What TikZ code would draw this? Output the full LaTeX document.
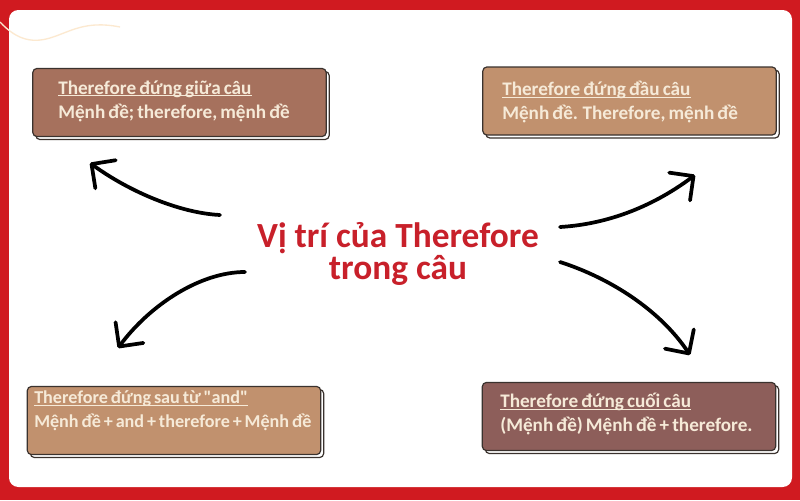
\documentclass[tikz,border=0pt]{standalone}
\usepackage{fontspec}
\setmainfont{Carlito}
\newfontfamily\tilefont[WordSpace=0.7]{Carlito}
\usetikzlibrary{arrows.meta}
\newcommand{\tileul}[1]{\setbox0\hbox{#1}\rlap{\rule[-1.6pt]{\wd0}{0.75pt}}\box0}

\begin{document}
\begin{tikzpicture}[x=0.75pt,y=0.75pt,yscale=-1,xscale=1,
    tilebox/.style={draw={rgb, 255:red, 58; green, 50; blue, 46 },line width=0.9pt,rounded corners=3pt,minimum width=220pt,minimum height=51pt,inner sep=0pt},
    tileshadow/.style={tilebox,fill=white},
    tiletext/.style={anchor=west,inner sep=0.75pt,align=left,text={rgb, 255:red, 246; green, 234; blue, 216 },font=\tilefont\fontsize{14.4}{18}\selectfont\bfseries},
    sketcharrow/.style={line width=2.8pt,line cap=round,-{Straight Barb[length=13pt,width=26pt,round]}}]
    \useasboundingbox (0,0) rectangle (800,500);
    \fill [color={rgb, 255:red, 208; green, 26; blue, 32 }] (0,0) rectangle (800,500);
    \fill [white,rounded corners=7pt] (9,10) rectangle (792,487);
    \draw [color={rgb, 255:red, 252; green, 233; blue, 208 },line width=1pt] (0,22) .. controls (15,38) and (30,44) .. (50,38) .. controls (70,32) and (85,20) .. (120,27) ;
    \node [tileshadow] (tlShadow) at (182.5,105.5) {};
    \node [tilebox,fill={rgb, 255:red, 166; green, 113; blue, 93 }] (tlBox) at (179.5,102.5) {};
    \node [tileshadow] (trShadow) at (632.5,104) {};
    \node [tilebox,fill={rgb, 255:red, 193; green, 145; blue, 110 }] (trBox) at (629.5,101) {};
    \node [tileshadow] (blShadow) at (177,423.5) {};
    \node [tilebox,fill={rgb, 255:red, 193; green, 145; blue, 110 }] (blBox) at (174,420.5) {};
    \node [tileshadow] (brShadow) at (632,419.5) {};
    \node [tilebox,fill={rgb, 255:red, 141; green, 94; blue, 90 }] (brBox) at (629,416.5) {};
    \node [tiletext] (tlText) at (57,101) {\tileul{Therefore đứng giữa câu}\\Mệnh đề; therefore, mệnh đề};
    \node [tiletext] (trText) at (501,102) {\tileul{Therefore đứng đầu câu}\\Mệnh đề. Therefore, mệnh đề};
    \node [tiletext,font=\tilefont\fontsize{13.6}{18}\selectfont\bfseries] (blText) at (33,411) {\tileul{Therefore đứng sau từ \textquotedbl and\textquotedbl}\\Mệnh đề + and + therefore + Mệnh đề};
    \node [tiletext] (brText) at (499,414) {\tileul{Therefore đứng cuối câu}\\(Mệnh đề) Mệnh đề + therefore.};
    \node [align=center,inner sep=0.75pt,text={rgb, 255:red, 200; green, 32; blue, 42 },font=\fontsize{26.5}{22.5}\selectfont\bfseries] (title) at (398,254) {Vị trí của Therefore\\trong câu};
    \coordinate (tlFrom) at (220,215);
    \coordinate (tlTo) at (90,163);
    \coordinate (trFrom) at (560,227);
    \coordinate (trTo) at (695,175);
    \coordinate (blFrom) at (245,272);
    \coordinate (blTo) at (118,348);
    \coordinate (brFrom) at (560,262);
    \coordinate (brTo) at (690,355);
    \draw [sketcharrow] (tlFrom) .. controls (180,213) and (130,192) .. (tlTo) ;
    \draw [sketcharrow] (trFrom) .. controls (610,224) and (655,205) .. (trTo) ;
    \draw [sketcharrow] (blFrom) .. controls (200,272) and (150,305) .. (blTo) ;
    \draw [sketcharrow] (brFrom) .. controls (610,278) and (660,310) .. (brTo) ;
\end{tikzpicture}
\end{document}
